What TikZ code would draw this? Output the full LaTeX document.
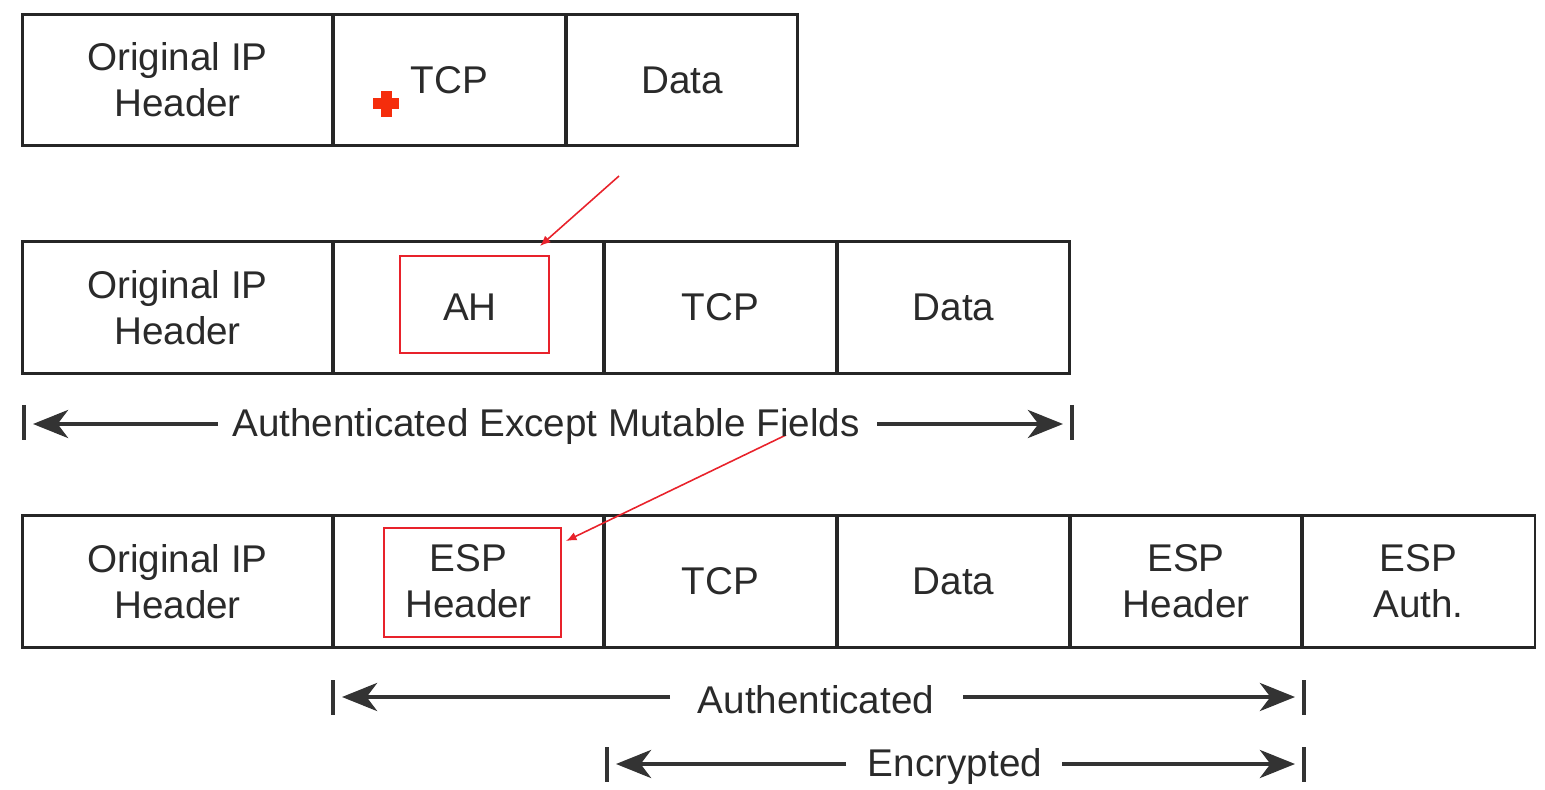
\documentclass[tikz,border=0pt]{standalone}
\usepackage{fontspec}
\setmainfont{Liberation Sans}
\usetikzlibrary{arrows.meta}
\definecolor{txt}{HTML}{2A2A2A}
\definecolor{redc}{HTML}{E8222B}
\definecolor{crossc}{HTML}{F52D0C}
\begin{document}
\begin{tikzpicture}[x=0.02cm,y=-0.02cm,
  cell/.style={draw=black!85,line width=1.7pt,rectangle,inner sep=0pt,align=center,
    font=\fontsize{22pt}{26pt}\selectfont,text=txt},
  redbox/.style={draw=redc,line width=0.9pt,rectangle,inner sep=0pt},
  redarrow/.style={draw=redc,line width=0.9pt,-{Latex[length=6pt,width=5pt]}},
  dimbar/.style={draw=black!80,line width=2.1pt},
  dimarrow/.style={draw=black!80,line width=2.1pt,-{Stealth[length=20pt,width=16pt,inset=6pt]}},
  dimtext/.style={font=\fontsize{22pt}{26pt}\selectfont,text=txt,inner sep=0pt}]
\useasboundingbox (0,0) rectangle (1545,790);
% row 1
\node[cell,minimum width=6.22cm,minimum height=2.64cm] (a1) at (177.5,80) {Original IP\\Header};
\node[cell,minimum width=4.66cm,minimum height=2.64cm] (a2) at (449.5,80) {TCP};
\node[cell,minimum width=4.64cm,minimum height=2.64cm] (a3) at (682,80) {Data};
% red cross
\node[fill=crossc,minimum width=0.52cm,minimum height=0.22cm,inner sep=0pt] (crossh) at (386,104) {};
\node[fill=crossc,minimum width=0.22cm,minimum height=0.52cm,inner sep=0pt] (crossv) at (386,104) {};
% row 2
\node[cell,minimum width=6.22cm,minimum height=2.66cm] (b1) at (177.5,307.5) {Original IP\\Header};
\node[cell,minimum width=5.42cm,minimum height=2.66cm] (b2) at (468.5,307.5) {};
\node[cell,minimum width=4.66cm,minimum height=2.66cm] (b3) at (720.5,307.5) {TCP};
\node[cell,minimum width=4.66cm,minimum height=2.66cm] (b4) at (953.5,307.5) {Data};
\node[redbox,minimum width=2.98cm,minimum height=1.94cm] (ah) at (474.5,304.5) {};
\node[dimtext] (ahtext) at (470,307) {AH};
% row 3
\node[cell,minimum width=6.22cm,minimum height=2.66cm] (c1) at (177.5,581.5) {Original IP\\Header};
\node[cell,minimum width=5.42cm,minimum height=2.66cm] (c2) at (468.5,581.5) {ESP\\Header};
\node[cell,minimum width=4.66cm,minimum height=2.66cm] (c3) at (720.5,581.5) {TCP};
\node[cell,minimum width=4.66cm,minimum height=2.66cm] (c4) at (953.5,581.5) {Data};
\node[cell,minimum width=4.64cm,minimum height=2.66cm] (c5) at (1186,581.5) {ESP\\Header};
\node[cell,minimum width=4.66cm,minimum height=2.66cm] (c6) at (1418.5,581.5) {ESP\\Auth.};
\node[redbox,minimum width=3.54cm,minimum height=2.18cm] (esp) at (472.5,582.5) {};
% red arrows
\coordinate (r1s) at (619,176);
\coordinate (r1e) at (540,246);
\draw[redarrow] (r1s) -- (r1e);
\coordinate (r2s) at (786,435);
\coordinate (r2e) at (566,541);
\draw[redarrow] (r2s) -- (r2e);
% dimension 1
\draw[dimbar] (24,405) -- (24,440);
\draw[dimbar] (1072,405) -- (1072,440);
\node[dimtext] (t1) at (546,427) {Authenticated Except Mutable Fields};
\draw[dimarrow] (218,424) -- (33,424);
\draw[dimarrow] (877,424) -- (1063,424);
% dimension 2
\draw[dimbar] (333,680) -- (333,715);
\draw[dimbar] (1304,680) -- (1304,715);
\node[dimtext] (t2) at (816,700) {Authenticated};
\draw[dimarrow] (670,697) -- (342,697);
\draw[dimarrow] (963,697) -- (1295,697);
% dimension 3
\draw[dimbar] (607,747) -- (607,782);
\draw[dimbar] (1304,747) -- (1304,782);
\node[dimtext] (t3) at (955,767) {Encrypted};
\draw[dimarrow] (846,764) -- (616,764);
\draw[dimarrow] (1062,764) -- (1295,764);
\end{tikzpicture}
\end{document}
